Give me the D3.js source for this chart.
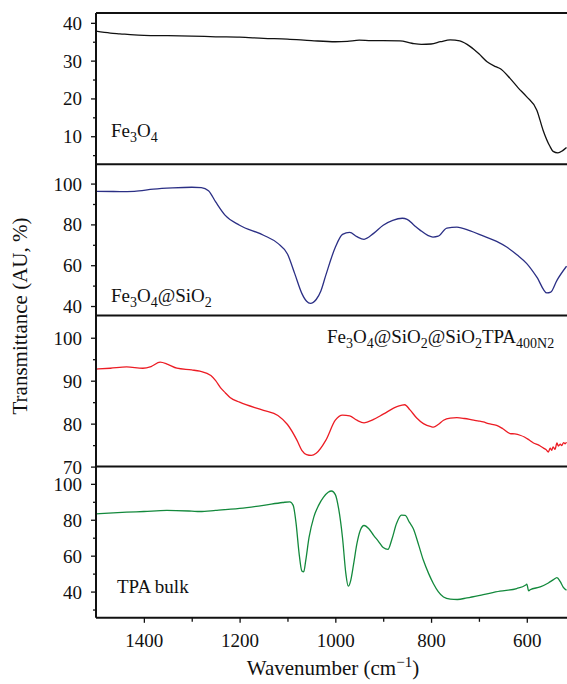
<!DOCTYPE html>
<html>
<head>
<meta charset="utf-8">
<script src="https://cdn.jsdelivr.net/npm/d3@7"></script>
<style>
  body { margin: 0; background: #fff; }
  svg text { font-family: "Liberation Serif", "DejaVu Serif", serif; fill: #111; }
</style>
</head>
<body>
<svg class="chart"></svg>
<script>
// spectra: [wavenumber, transmittance]
var fe3o4 = [[1500,37.8],[1470,37.3],[1450,37.1],[1420,36.8],[1400,36.7],[1350,36.6],[1300,36.5],[1250,36.3],
  [1200,36.2],[1150,35.9],[1100,35.7],[1050,35.3],[1000,35.0],[975,35.1],[950,35.4],[925,35.3],[900,35.3],
  [865,35.2],[840,34.6],[820,34.3],[800,34.4],[780,35.0],[760,35.5],[740,35.2],[718,33.7],[700,31.8],
  [683,29.7],[665,28.4],[656,27.9],[635,25.3],[618,22.8],[600,20.4],[579,16.9],[566,11.6],[552,7.4],
  [545,6.0],[535,5.6],[525,6.2],[517,7.0]];
var fe3o4Si = [[1500,96.2],[1450,96.1],[1420,96.2],[1380,97.3],[1340,97.9],[1300,98.2],[1280,98.0],[1265,96.5],
  [1250,91.0],[1230,84.4],[1200,79.6],[1150,74.7],[1120,70.7],[1100,65.5],[1085,56.0],[1070,46.2],[1060,42.3],
  [1052,41.3],[1040,43.2],[1030,47.5],[1020,55.0],[1000,68.8],[985,75.1],[970,76.1],[955,74.0],[940,72.7],
  [920,75.6],[900,79.6],[880,82.0],[860,83.0],[850,82.5],[835,79.5],[823,77.2],[806,74.5],[796,73.8],
  [785,74.2],[767,78.2],[746,78.7],[718,76.8],[690,74.2],[663,71.7],[642,68.9],[620,65.0],[600,60.8],
  [579,54.2],[558,46.4],[550,46.8],[537,52.6],[517,59.5]];
var fe3o4Tpa = [[1500,92.7],[1470,92.9],[1436,93.2],[1402,92.9],[1385,93.3],[1366,94.3],[1350,93.8],[1331,92.9],
  [1300,92.5],[1283,92.2],[1260,91.2],[1250,90.0],[1240,88.4],[1230,87.2],[1220,86.1],[1200,85.0],[1150,83.1],
  [1120,81.9],[1100,79.8],[1080,76.1],[1070,73.8],[1060,72.8],[1050,72.6],[1040,73.1],[1020,76.1],[1000,80.8],
  [985,82.0],[970,81.8],[955,80.8],[940,80.2],[920,81.0],[900,82.2],[870,84.0],[855,84.4],[844,83.2],
  [830,81.3],[816,80.0],[800,79.3],[795,79.2],[785,79.8],[774,80.8],[760,81.3],[746,81.4],[730,81.2],
  [711,80.8],[700,80.6],[691,80.4],[680,80.0],[663,79.6],[650,78.8],[635,77.7],[625,77.6],[614,77.3],
  [605,76.9],[595,76.2],[586,75.5],[575,75.0],[565,74.3],[560,74.0],[555,73.4],[551,74.3],[548,73.8],
  [545,74.6],[541,74.0],[537,75.5],[534,74.8],[530,75.2],[527,74.9],[523,75.6],[520,75.3],[517,75.7]];
var tpaBulk = [[1500,83.3],[1436,84.2],[1400,84.6],[1352,85.2],[1300,84.8],[1283,84.6],[1250,85.2],[1200,86.3],
  [1150,88.0],[1110,89.6],[1095,90.0],[1088,88.0],[1082,78.0],[1076,62.0],[1070,51.5],[1066,51.0],[1062,57.0],
  [1055,70.0],[1045,81.5],[1035,88.0],[1025,92.5],[1015,95.3],[1008,96.0],[1000,94.0],[993,86.0],[985,70.0],
  [978,50.0],[973,43.0],[968,46.0],[962,55.0],[955,66.5],[948,74.0],[940,76.8],[930,75.0],[920,71.3],
  [910,68.0],[900,64.5],[890,63.5],[882,69.0],[872,78.0],[862,82.6],[854,82.4],[845,78.5],[837,75.0],
  [826,66.0],[816,57.4],[805,50.0],[795,44.4],[785,40.0],[774,37.0],[760,35.8],[745,35.6],[725,36.5],
  [691,38.3],[656,40.2],[621,41.7],[603,43.5],[600,44.1],[596,40.4],[593,41.0],[572,42.6],[555,44.8],
  [545,46.5],[537,47.8],[530,45.5],[524,42.5],[517,40.7]];

var xTicks = [1400, 1200, 1000, 800, 600];
var xMinor = [1300, 1100, 900, 700];

var panels = [
  {data: fe3o4, color: "#111111", domain: [2.6, 42.6], ticks: [10, 20, 30, 40], minor: [5, 15, 25, 35]},
  {data: fe3o4Si, color: "#2b2f85", domain: [35.4, 109.5], ticks: [40, 60, 80, 100], minor: [50, 70, 90]},
  {data: fe3o4Tpa, color: "#ec1c24", domain: [70, 105.2], ticks: [70, 80, 90, 100], minor: [75, 85, 95]},
  {data: tpaBulk, color: "#13893c", domain: [25.4, 109.6], ticks: [40, 60, 80, 100], minor: [30, 50, 70, 90]}
];

var W = 567, H = 684;
var left = 96, right = 567, top0 = 13, panelH = 151.2;

var svg = d3.select(".chart").attr("width", W).attr("height", H);

var x = d3.scaleLinear().domain([1500, 516]).range([left, right]);

svg.append("clipPath").attr("id", "clip")
  .append("rect").attr("x", left).attr("y", top0).attr("width", right - left).attr("height", panelH * 4);

panels.forEach(function(p, i) {
  var y0 = top0 + i * panelH, y1 = y0 + panelH;
  var y = d3.scaleLinear().domain(p.domain).range([y1, y0]);

  // minor ticks
  svg.append("g").attr("transform", "translate(" + left + ",0)")
    .call(d3.axisLeft(y).tickValues(p.minor).tickSize(3).tickFormat(""))
    .call(function(g) { g.select(".domain").remove(); g.selectAll("line").attr("stroke-width", 1.3).attr("stroke", "#111"); });

  // major ticks
  var ax = svg.append("g").attr("transform", "translate(" + left + ",0)")
    .call(d3.axisLeft(y).tickValues(p.ticks).tickSize(5).tickPadding(9));
  ax.select(".domain").remove();
  ax.selectAll("line").attr("stroke-width", 1.3).attr("stroke", "#111");
  ax.selectAll("text").attr("font-size", 19).attr("dy", "0.34em");

  var line = d3.line()
    .x(function(d) { return x(d[0]); })
    .y(function(d) { return y(d[1]); })
    .curve(d3.curveMonotoneX);

  svg.append("path").datum(p.data)
    .attr("clip-path", "url(#clip)")
    .attr("fill", "none")
    .attr("stroke", p.color)
    .attr("stroke-width", 1.3)
    .attr("d", line);

  // panel separator
  svg.append("line").attr("x1", left).attr("x2", right).attr("y1", y0).attr("y2", y0)
    .attr("stroke", "#111").attr("stroke-width", 2);
});

var bottom = top0 + panelH * 4;
svg.append("line").attr("x1", left).attr("x2", right).attr("y1", bottom).attr("y2", bottom)
  .attr("stroke", "#111").attr("stroke-width", 2);
svg.append("line").attr("x1", left).attr("x2", left).attr("y1", top0).attr("y2", bottom)
  .attr("stroke", "#111").attr("stroke-width", 2);

// x axis
svg.append("g").attr("transform", "translate(0," + bottom + ")")
  .call(d3.axisBottom(x).tickValues(xMinor).tickSize(4).tickFormat(""))
  .call(function(g) { g.select(".domain").remove(); g.selectAll("line").attr("stroke-width", 1.3).attr("stroke", "#111"); });
var xa = svg.append("g").attr("transform", "translate(0," + bottom + ")")
  .call(d3.axisBottom(x).tickValues(xTicks).tickFormat(d3.format("d")).tickSize(5).tickPadding(11));
xa.select(".domain").remove();
xa.selectAll("line").attr("stroke-width", 1.3).attr("stroke", "#111");
xa.selectAll("text").attr("font-size", 19);

// axis titles
var xt = svg.append("text").attr("x", 333).attr("y", 675).attr("text-anchor", "middle").attr("font-size", 21);
xt.append("tspan").text("Wavenumber (cm");
xt.append("tspan").attr("font-size", 15).attr("dy", -8).text("\u22121");
xt.append("tspan").attr("dy", 8).text(")");

svg.append("text").attr("transform", "translate(27,316) rotate(-90)")
  .attr("text-anchor", "middle").attr("font-size", 21).text("Transmittance (AU, %)");

// sample labels: pieces of [text, isSub]
function label(px, py, parts) {
  var t = svg.append("text").attr("x", px).attr("y", py).attr("font-size", 19);
  var sub = false;
  parts.forEach(function(s) {
    var ts = t.append("tspan").text(s[0]);
    if (s[1] && !sub) { ts.attr("dy", 5).attr("font-size", 14); sub = true; }
    else if (s[1]) { ts.attr("font-size", 14); }
    else if (sub) { ts.attr("dy", -5); sub = false; }
  });
}
label(111, 137, [["Fe"], ["3", 1], ["O"], ["4", 1]]);
label(111, 302, [["Fe"], ["3", 1], ["O"], ["4", 1], ["@SiO"], ["2", 1]]);
label(327, 343, [["Fe"], ["3", 1], ["O"], ["4", 1], ["@SiO"], ["2", 1], ["@SiO"], ["2", 1], ["TPA"], ["400N2", 1]]);
label(117, 593, [["TPA bulk"]]);
</script>
</body>
</html>
